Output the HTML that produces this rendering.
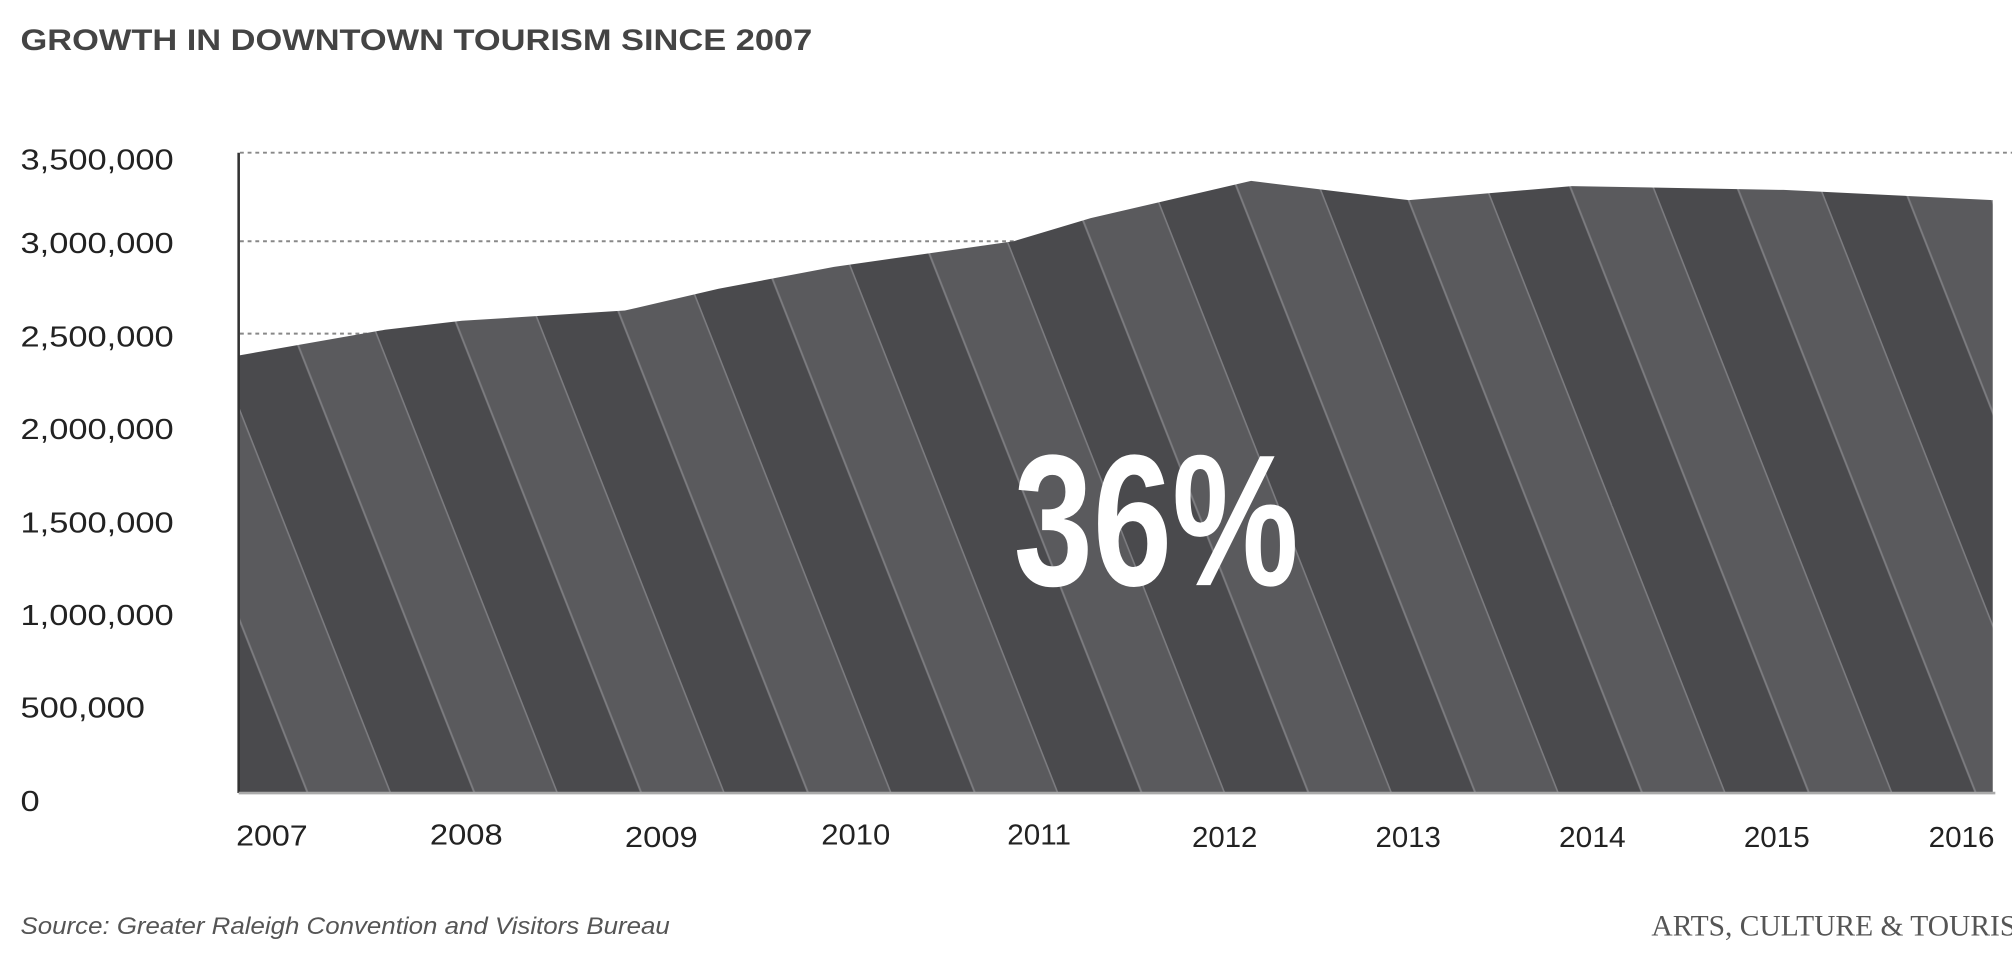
<!DOCTYPE html>
<html><head><style>
html,body{margin:0;padding:0;background:#fff;overflow:hidden;width:2012px;height:956px}
svg{display:block}
</style></head><body>
<svg width="2012" height="956" viewBox="0 0 1568 745" preserveAspectRatio="none" xmlns="http://www.w3.org/2000/svg">
<defs>
<pattern id="st" patternUnits="userSpaceOnUse" width="130" height="800" patternTransform="translate(175,618) skewX(21.5)">
<rect x="0" y="0" width="65" height="800" fill="#4a4a4d"/>
<rect x="65" y="0" width="65" height="800" fill="#5a5a5d"/>
<rect x="64" y="0" width="1.6" height="800" fill="#7c7c80"/>
<rect x="128.7" y="0" width="1.6" height="800" fill="#7c7c80"/>
</pattern>
</defs>
<text x="16" y="39" font-family="Liberation Sans, sans-serif" font-weight="bold" font-size="23" fill="#444" textLength="617" lengthAdjust="spacingAndGlyphs">GROWTH IN DOWNTOWN TOURISM SINCE 2007</text>
<g stroke="#888" stroke-width="1.5" stroke-dasharray="3,3">
<line x1="187" y1="119" x2="1568" y2="119"/>
<line x1="187" y1="188" x2="800" y2="188"/>
<line x1="187" y1="260" x2="300" y2="260"/>
</g>
<polygon fill="url(#st)" points="186,277 300,257 360,250 487,242 560,225 650,208 790,188 850,170 975,141 1098,156 1225,145 1390,148 1553,156 1553,618 186,618"/>
<line x1="186" y1="119" x2="186" y2="618" stroke="#333" stroke-width="2"/>
<line x1="186" y1="618" x2="1555" y2="618" stroke="#aaa" stroke-width="2"/>
<g font-family="Liberation Sans, sans-serif" font-size="22" fill="#222" transform="translate(16,0) scale(1.22,1)">
<text x="0" y="132">3,500,000</text>
<text x="0" y="197">3,000,000</text>
<text x="0" y="270">2,500,000</text>
<text x="0" y="342">2,000,000</text>
<text x="0" y="415">1,500,000</text>
<text x="0" y="487">1,000,000</text>
<text x="0" y="559">500,000</text>
<text x="0" y="632">0</text>
</g>
<g font-family="Liberation Sans, sans-serif" font-size="22" fill="#222">
<text transform="translate(184,659) scale(1.14,1)">2007</text>
<text transform="translate(335,658) scale(1.16,1)">2008</text>
<text transform="translate(487,660) scale(1.16,1)">2009</text>
<text transform="translate(640,658) scale(1.1,1)">2010</text>
<text transform="translate(785,658) scale(1.05,1)">2011</text>
<text transform="translate(929,660) scale(1.04,1)">2012</text>
<text transform="translate(1072,660) scale(1.04,1)">2013</text>
<text transform="translate(1215,660) scale(1.06,1)">2014</text>
<text transform="translate(1359,660) scale(1.05,1)">2015</text>
<text transform="translate(1503,660) scale(1.05,1)">2016</text>
</g>
<text x="0" y="0" transform="translate(790,456) scale(0.76,1)" font-family="Liberation Sans, sans-serif" font-weight="bold" font-size="146" fill="#fff">36%</text>
<text x="16" y="728" font-family="Liberation Sans, sans-serif" font-style="italic" font-size="19" fill="#555" textLength="506" lengthAdjust="spacingAndGlyphs">Source: Greater Raleigh Convention and Visitors Bureau</text>
<text x="1287" y="729" font-family="Liberation Serif, serif" font-size="23" fill="#555">ARTS, CULTURE &amp; TOURISM</text>
</svg>
</body></html>
